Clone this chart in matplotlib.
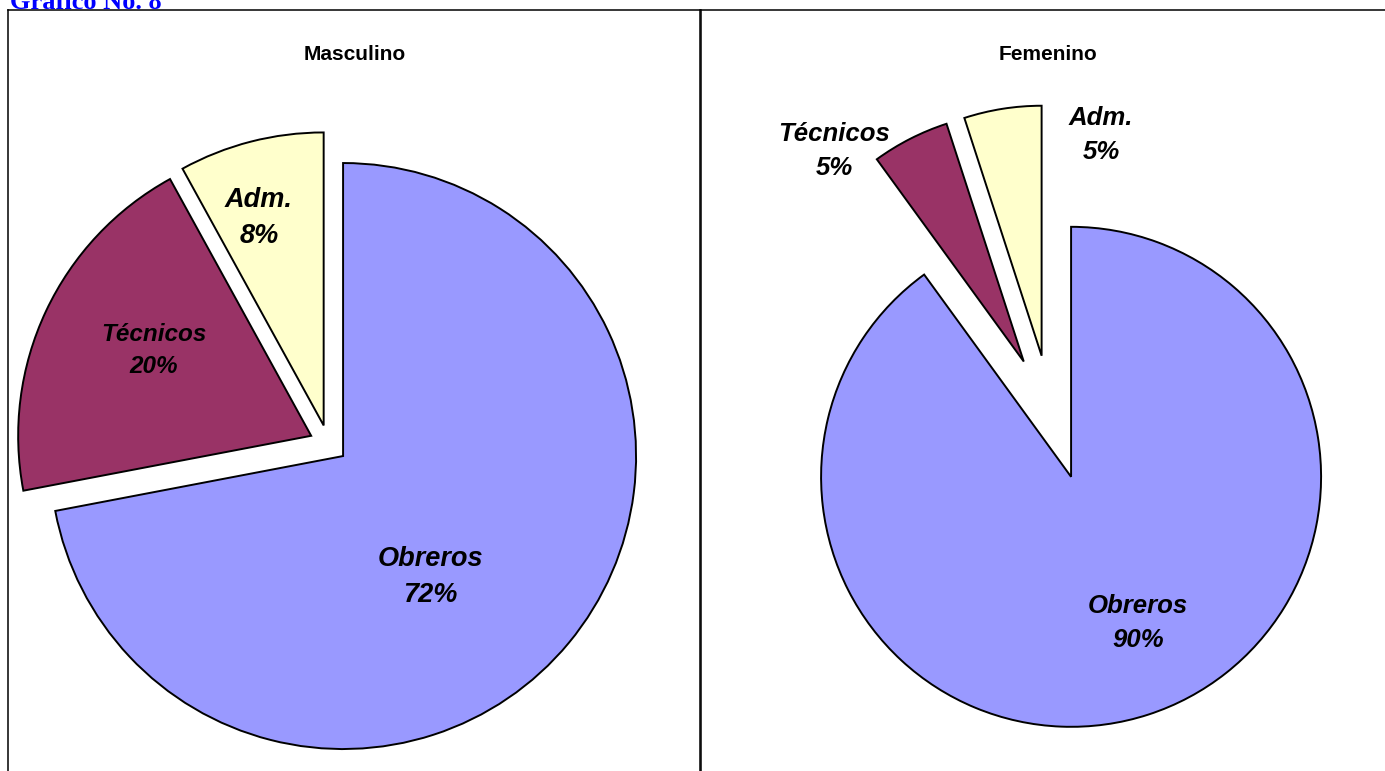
import matplotlib.pyplot as plt

# data
categories = ['Obreros', 'Técnicos', 'Adm.']
masculino = [72, 20, 8]
femenino = [90, 5, 5]
colors = ['#9999FF', '#993366', '#FFFFCC']

W, H = 1385, 771

plt.rcParams['font.family'] = ['Liberation Sans', 'DejaVu Sans']
fig = plt.figure(figsize=(W / 100, H / 100), dpi=100)


def pie_panel(box, center, radius, values, explode, label_pos, label_sizes, title, title_x):
    # box is the panel in screen pixels (x0, y0, x1, y1), y downwards
    x0, y0, x1, y1 = box
    cx, cy = center
    ax = fig.add_axes([x0 / W, 1 - y1 / H, (x1 - x0) / W, (y1 - y0) / H])
    ax.pie(values, colors=colors, startangle=90, counterclock=False,
           explode=explode, wedgeprops=dict(edgecolor='black', linewidth=1.4))
    ax.set_aspect('auto')
    ax.set_xlim((x0 - cx) / radius, (x1 - cx) / radius)
    ax.set_ylim((cy - y1) / radius, (cy - y0) / radius)
    ax.set_frame_on(True)
    for s in ax.spines.values():
        s.set_linewidth(1.1)
        s.set_color('black')
    ax.set_xticks([])
    ax.set_yticks([])
    for name, val, (lx, ly), fs in zip(categories, values, label_pos, label_sizes):
        ax.text(lx, ly, f'{name}\n{val}%', ha='center', va='center',
                fontsize=fs, fontweight='bold', fontstyle='italic', linespacing=1.5)
    fig.text(title_x / W, 1 - 54 / H, title, ha='center', va='center',
             fontsize=15, fontweight='bold')
    return ax


pie_panel((7.5, 10, 699.5, 790), (328.4, 443.9), 293, masculino,
          [0.065, 0.065, 0.065],
          [(0.347, -0.454), (-0.595, 0.320), (-0.237, 0.771)],
          [19.5, 17.5, 19.5], 'Masculino', 355)

pie_panel((701, 10, 1400, 790), (1051, 415), 250, femenino,
          [0.26, 0.24, 0.24],
          [(0.348, -0.832), (-0.868, 1.056), (0.2, 1.12)],
          [18.5, 18.5, 18.5], 'Femenino', 1048)

fig.text(10 / W, 1 - 9 / H, 'Gráfico No. 8', color='#0000FF', fontsize=19,
         fontweight='bold', family='Liberation Serif', ha='left', va='baseline')

fig.savefig('out.png', dpi=100)
